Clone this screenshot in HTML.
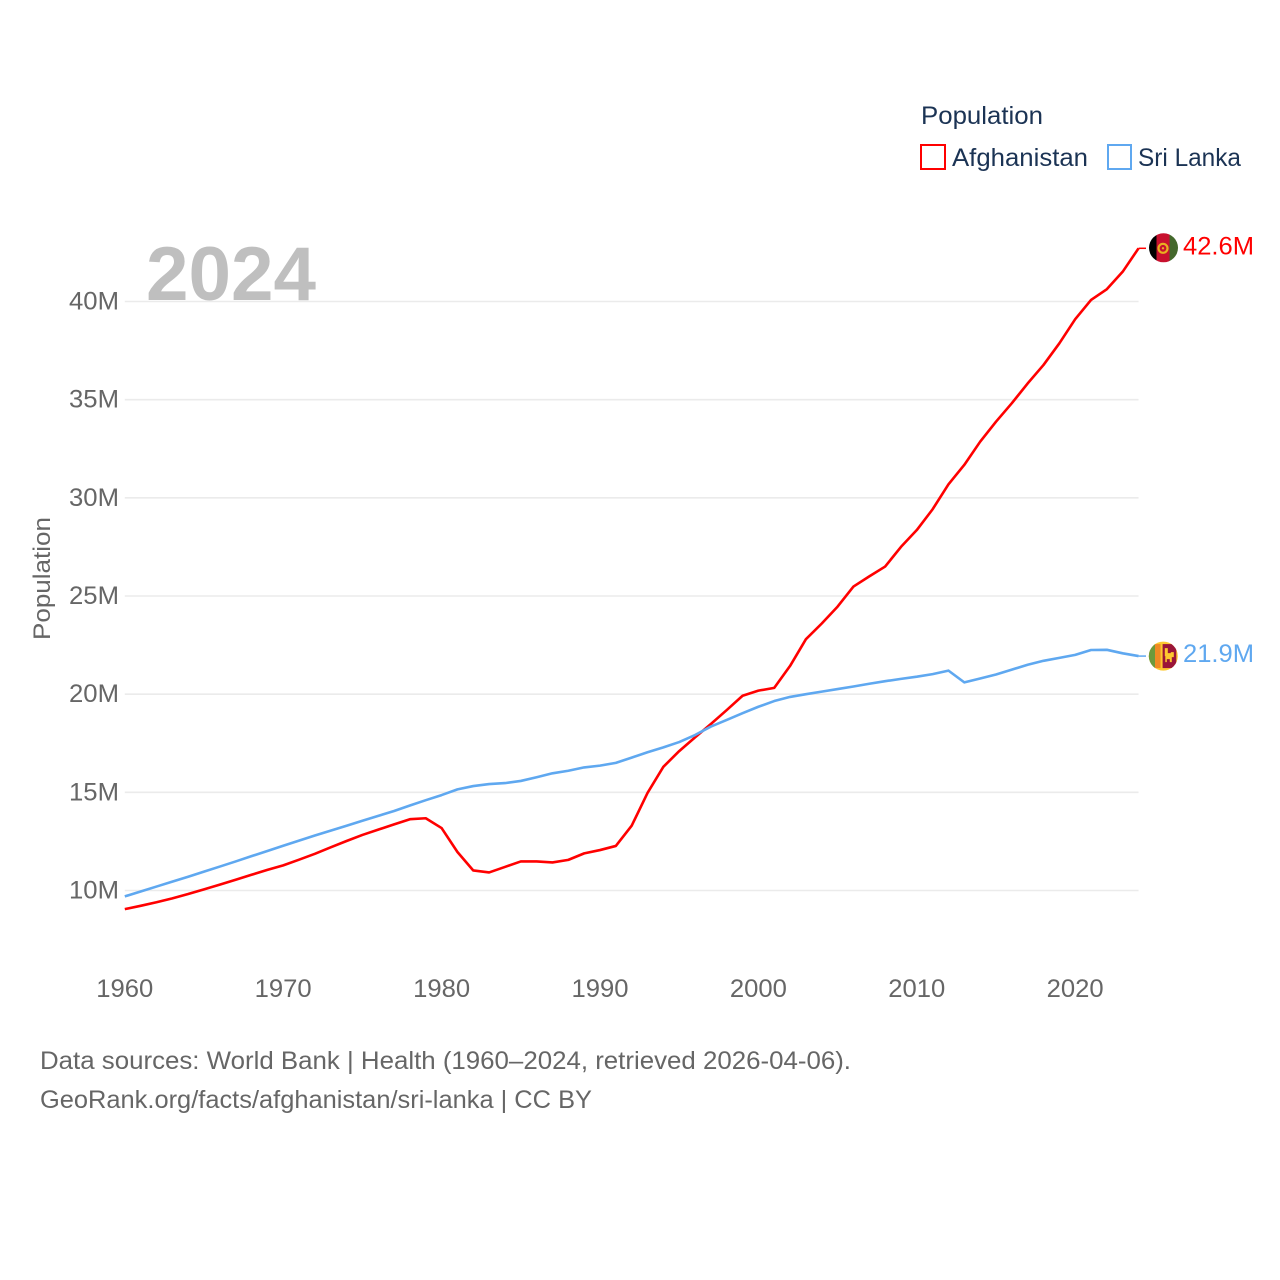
<!DOCTYPE html>
<html lang="en">
<head>
<meta charset="utf-8">
<title>Population: Afghanistan and Sri Lanka</title>
<style>
html,body{margin:0;padding:0;background:#fff;width:1280px;height:1280px;overflow:hidden}
svg{display:block}
text{font-family:"Liberation Sans",sans-serif}
</style>
</head>
<body>
<svg id="chart" xmlns="http://www.w3.org/2000/svg" width="1280" height="1280" viewBox="0 0 1280 1280">
  <defs>
    <clipPath id="flag-clip"><circle cx="0" cy="0" r="14.5"></circle></clipPath>
  </defs>
  <rect x="0" y="0" width="1280" height="1280" fill="#ffffff"></rect>
  <g id="grid"></g>
  <text x="146" y="300" font-size="76" font-weight="700" fill="#bfbfbf" textLength="170" lengthAdjust="spacingAndGlyphs">2024</text>
  <g id="yticks"></g>
  <g id="xticks"></g>
  <text transform="translate(50,640) rotate(-90)" x="0" y="0" font-size="24" fill="#666666" textLength="123" lengthAdjust="spacingAndGlyphs">Population</text>
  <g id="series"></g>

  <g id="flag-afghanistan">
    <g clip-path="url(#flag-clip)">
      <rect x="-15" y="-15" width="8" height="30" fill="#000000"></rect>
      <rect x="-7" y="-15" width="13" height="30" fill="#c8102e"></rect>
      <rect x="6" y="-15" width="9" height="30" fill="#44682c"></rect>
      <circle cx="-0.5" cy="0.5" r="4.5" fill="none" stroke="#e8b020" stroke-width="2.2"></circle>
      <circle cx="-0.5" cy="0.5" r="1.2" fill="#e8b020"></circle>
    </g>
  </g>
  <g id="flag-sri-lanka">
    <g clip-path="url(#flag-clip)">
      <rect x="-15" y="-15" width="30" height="30" fill="#fdc82f"></rect>
      <rect x="-15" y="-12" width="6.7" height="24" fill="#6d9a3c"></rect>
      <rect x="-8.3" y="-12" width="5.6" height="24" fill="#f08a24"></rect>
      <rect x="-0.7" y="-12" width="13.7" height="24" fill="#9a1538"></rect>
      <path d="M1.5 -8h3v5h3v-1h3v5h-2v5h-2v-3h-3v3h-1.5v-6h-0.5z" fill="#fdc82f"></path>
    </g>
  </g>
  <g id="end-labels"></g>

  <g>
    <text x="921" y="124" font-size="25" fill="#1b3354" textLength="122" lengthAdjust="spacingAndGlyphs">Population</text>
    <g>
      <rect x="921" y="145" width="24" height="24" fill="#ffffff" stroke="#ff0000" stroke-width="2"></rect>
      <text x="952" y="166" font-size="25" fill="#1b3354" textLength="136" lengthAdjust="spacingAndGlyphs">Afghanistan</text>
    </g>
    <g>
      <rect x="1108" y="145" width="23" height="24" fill="#ffffff" stroke="#5fa8f0" stroke-width="2"></rect>
      <text x="1138" y="166" font-size="25" fill="#1b3354" textLength="103" lengthAdjust="spacingAndGlyphs">Sri Lanka</text>
    </g>
  </g>

  <text x="40" y="1069" font-size="25" fill="#666666" textLength="811" lengthAdjust="spacingAndGlyphs">Data sources: World Bank | Health (1960–2024, retrieved 2026-04-06).</text>
  <text x="40" y="1108" font-size="25" fill="#666666" textLength="552" lengthAdjust="spacingAndGlyphs">GeoRank.org/facts/afghanistan/sri-lanka | CC BY</text>
</svg>

<script>
const startYear = 1960;
const xTickYears = [1960, 1970, 1980, 1990, 2000, 2010, 2020];
const yTickValues = [10, 15, 20, 25, 30, 35, 40];
const afghanistanValues = [
  9.05, 9.22, 9.40, 9.60, 9.82, 10.06, 10.30, 10.55, 10.80, 11.05,
  11.28, 11.57, 11.87, 12.20, 12.52, 12.83, 13.10, 13.37, 13.63, 13.68,
  13.18, 11.96, 11.02, 10.92, 11.20, 11.48, 11.48, 11.43, 11.56, 11.89,
  12.06, 12.27, 13.30, 14.97, 16.30, 17.10, 17.80, 18.48, 19.19, 19.92,
  20.18, 20.32, 21.44, 22.80, 23.60, 24.46, 25.48, 26.00, 26.50, 27.50,
  28.36, 29.42, 30.69, 31.68, 32.86, 33.88, 34.82, 35.83, 36.77, 37.87,
  39.10, 40.08, 40.63, 41.52, 42.71
];
const sriLankaValues = [
  9.70, 9.95, 10.20, 10.45, 10.70, 10.96, 11.22, 11.48, 11.75, 12.01,
  12.28, 12.54, 12.80, 13.05, 13.30, 13.55, 13.80, 14.05, 14.33, 14.60,
  14.86, 15.15, 15.32, 15.42, 15.47, 15.58, 15.77, 15.97, 16.10, 16.27,
  16.36, 16.50, 16.77, 17.04, 17.29, 17.56, 17.92, 18.35, 18.69, 19.03,
  19.36, 19.65, 19.86, 20.00, 20.13, 20.26, 20.39, 20.53, 20.66, 20.78,
  20.89, 21.02, 21.20, 20.60, 20.80, 21.00, 21.25, 21.50, 21.70, 21.85,
  22.00, 22.25, 22.26, 22.08, 21.94
];
const afghanistanEndLabel = "42.6M";
const sriLankaEndLabel = "21.9M";

const SVG_NS = "http://www.w3.org/2000/svg";
function xScale(year) { return 124.8 + (year - 1960) * 15.84; }
function yScale(value) { return 890.5 - (value - 10) * 19.633; }
function make(tag, parentId) {
  const el = document.createElementNS(SVG_NS, tag);
  document.getElementById(parentId).appendChild(el);
  return el;
}
function linePath(values) {
  return values.map(function (v, i) {
    return (i ? "L" : "M") + xScale(startYear + i).toFixed(2) + " " + yScale(v).toFixed(2);
  }).join("");
}

yTickValues.forEach(function (v) {
  const line = make("line", "grid");
  
  
  line.setAttribute("x1", xScale(1960));
  line.setAttribute("x2", xScale(2024));
  line.setAttribute("y1", yScale(v));
  line.setAttribute("y2", yScale(v));
  line.setAttribute("stroke", "#ebebeb");
  line.setAttribute("stroke-width", "1.6");

  const label = make("text", "yticks");
  
  
  label.setAttribute("x", 69);
  label.setAttribute("y", yScale(v) + 8);
  label.setAttribute("font-size", "25");
  label.setAttribute("fill", "#666666");
  label.setAttribute("textLength", "50");
  label.setAttribute("lengthAdjust", "spacingAndGlyphs");
  label.textContent = v + "M";
});

xTickYears.forEach(function (year) {
  const label = make("text", "xticks");
  
  
  label.setAttribute("x", xScale(year) - 28.5);
  label.setAttribute("y", 997);
  label.setAttribute("font-size", "25");
  label.setAttribute("fill", "#666666");
  label.setAttribute("textLength", "57");
  label.setAttribute("lengthAdjust", "spacingAndGlyphs");
  label.textContent = year;
});

const afghanistanLine = make("path", "series");


afghanistanLine.setAttribute("d", linePath(afghanistanValues));
afghanistanLine.setAttribute("fill", "none");
afghanistanLine.setAttribute("stroke", "#ff0000");
afghanistanLine.setAttribute("stroke-width", "2.6");
afghanistanLine.setAttribute("stroke-linejoin", "round");

const sriLankaLine = make("path", "series");


sriLankaLine.setAttribute("d", linePath(sriLankaValues));
sriLankaLine.setAttribute("fill", "none");
sriLankaLine.setAttribute("stroke", "#5fa8f0");
sriLankaLine.setAttribute("stroke-width", "2.6");
sriLankaLine.setAttribute("stroke-linejoin", "round");

const afghanistanEndY = yScale(afghanistanValues[afghanistanValues.length - 1]);
const sriLankaEndY = yScale(sriLankaValues[sriLankaValues.length - 1]);

const afghanistanConnector = make("line", "series");


afghanistanConnector.setAttribute("x1", xScale(2024));
afghanistanConnector.setAttribute("x2", 1146);
afghanistanConnector.setAttribute("y1", afghanistanEndY);
afghanistanConnector.setAttribute("y2", afghanistanEndY);
afghanistanConnector.setAttribute("stroke", "#ff0000");
afghanistanConnector.setAttribute("stroke-width", "1.5");

const sriLankaConnector = make("line", "series");


sriLankaConnector.setAttribute("x1", xScale(2024));
sriLankaConnector.setAttribute("x2", 1146);
sriLankaConnector.setAttribute("y1", sriLankaEndY);
sriLankaConnector.setAttribute("y2", sriLankaEndY);
sriLankaConnector.setAttribute("stroke", "#5fa8f0");
sriLankaConnector.setAttribute("stroke-width", "1.5");

document.getElementById("flag-afghanistan").setAttribute("transform", "translate(1163.5," + (afghanistanEndY - 0.5) + ")");
document.getElementById("flag-sri-lanka").setAttribute("transform", "translate(1163.3," + sriLankaEndY + ")");

const afghanistanLabel = make("text", "end-labels");


afghanistanLabel.setAttribute("x", 1183);
afghanistanLabel.setAttribute("y", afghanistanEndY + 6);
afghanistanLabel.setAttribute("font-size", "25");
afghanistanLabel.setAttribute("fill", "#ff0000");
afghanistanLabel.setAttribute("textLength", "71");
afghanistanLabel.setAttribute("lengthAdjust", "spacingAndGlyphs");
afghanistanLabel.textContent = afghanistanEndLabel;

const sriLankaLabel = make("text", "end-labels");


sriLankaLabel.setAttribute("x", 1183);
sriLankaLabel.setAttribute("y", sriLankaEndY + 6);
sriLankaLabel.setAttribute("font-size", "25");
sriLankaLabel.setAttribute("fill", "#5fa8f0");
sriLankaLabel.setAttribute("textLength", "71");
sriLankaLabel.setAttribute("lengthAdjust", "spacingAndGlyphs");
sriLankaLabel.textContent = sriLankaEndLabel;
</script>
</body>
</html>
